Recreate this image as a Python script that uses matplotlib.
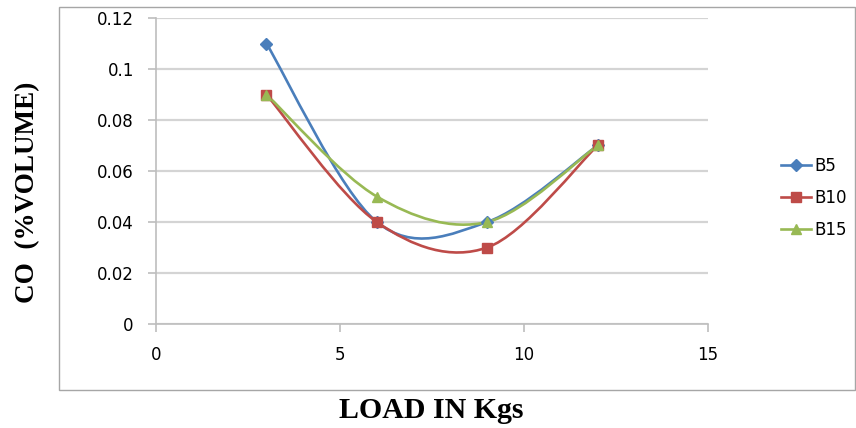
import matplotlib.pyplot as plt
from matplotlib.path import Path
from matplotlib.patches import PathPatch, Rectangle
from matplotlib.lines import Line2D

# charge en kg et CO mesuré pour chaque mélange
load = [3, 6, 9, 12]
co_b5 = [0.11, 0.04, 0.04, 0.07]
co_b10 = [0.09, 0.04, 0.03, 0.07]
co_b15 = [0.09, 0.05, 0.04, 0.07]

series = [
    ('B5', co_b5, '#4A7EBB', 'D', 6),
    ('B10', co_b10, '#BE4B48', 's', 7),
    ('B15', co_b15, '#98B954', '^', 7.5),
]


def smooth_path(x, y):
    # courbe lissée façon tableur : bezier cubique entre chaque paire de points
    pts = list(zip(x, y))
    verts = [pts[0]]
    codes = [Path.MOVETO]
    n = len(pts)
    for i in range(n - 1):
        p0 = pts[i - 1] if i > 0 else pts[i]
        p1 = pts[i]
        p2 = pts[i + 1]
        p3 = pts[i + 2] if i + 2 < n else pts[i + 1]
        c1 = (p1[0] + (p2[0] - p0[0]) / 6, p1[1] + (p2[1] - p0[1]) / 6)
        c2 = (p2[0] - (p3[0] - p1[0]) / 6, p2[1] - (p3[1] - p1[1]) / 6)
        verts += [c1, c2, p2]
        codes += [Path.CURVE4] * 3
    return Path(verts, codes)


fig = plt.figure(figsize=(8.56, 4.28), dpi=100)
fig.patch.set_facecolor('white')
fig.patches.append(Rectangle((59 / 856, 1 - 390 / 428), 796 / 856, 383 / 428,
                             transform=fig.transFigure, fill=False,
                             edgecolor='#A6A6A6', linewidth=1.0))

ax = fig.add_axes([156 / 856, 1 - 324 / 428, 552 / 856, 306 / 428])
ax.set_xlim(0, 15)
ax.set_ylim(0, 0.12)
ax.set_xticks([0, 5, 10, 15])
ax.set_yticks([0, 0.02, 0.04, 0.06, 0.08, 0.1, 0.12])
ax.set_yticklabels(['0', '0.02', '0.04', '0.06', '0.08', '0.1', '0.12'])
ax.yaxis.grid(True, color='#D4D4D4', linewidth=1.6)
ax.set_axisbelow(True)
for s in ['top', 'right']:
    ax.spines[s].set_visible(False)
for s in ['left', 'bottom']:
    ax.spines[s].set_color('#BEBEBE')
    ax.spines[s].set_linewidth(1.2)
ax.tick_params(axis='both', colors='#BEBEBE', length=6, width=1.2,
               labelcolor='black', labelsize=12)
ax.tick_params(axis='y', pad=10)
ax.tick_params(axis='x', pad=10)
for lbl in ax.get_xticklabels() + ax.get_yticklabels():
    lbl.set_fontfamily('DejaVu Sans')

handles = []
for name, vals, col, mk, ms in series:
    ax.add_patch(PathPatch(smooth_path(load, vals), facecolor='none',
                           edgecolor=col, linewidth=1.9, zorder=3))
    ax.plot(load, vals, linestyle='none', marker=mk, color=col,
            markersize=ms, zorder=4)
    handles.append(Line2D([], [], color=col, linewidth=1.9, marker=mk,
                          markersize=ms, label=name))

fig.legend(handles=handles, loc='center left',
           bbox_to_anchor=(778 / 856, 1 - 198 / 428), frameon=False,
           prop={'family': 'DejaVu Sans', 'size': 12}, handlelength=1.8,
           handletextpad=0.2, labelspacing=0.85, borderaxespad=0,
           borderpad=0.2)

fig.text(431 / 856, 1 - 410 / 428, 'LOAD IN Kgs', ha='center', va='center',
         family='Liberation Serif', fontweight='bold', fontsize=21.5)
fig.text(28 / 856, 1 - 192 / 428, 'CO  (%VOLUME)', ha='center', va='center',
         rotation=90, family='Liberation Serif', fontweight='bold', fontsize=19.5)

fig.savefig('out.png', dpi=100, facecolor='white')
